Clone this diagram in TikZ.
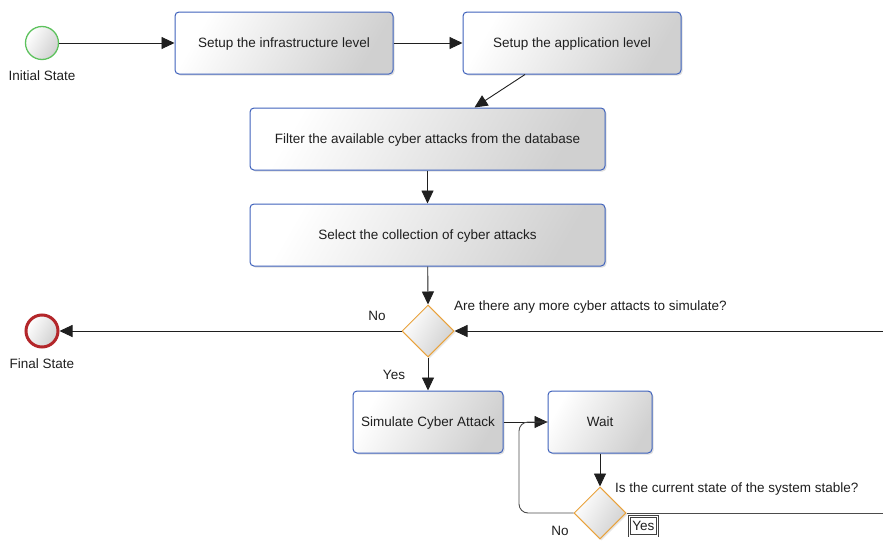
\documentclass[tikz,border=0pt]{standalone}
\usepackage{fontspec}
\setmainfont{Liberation Sans}
\usetikzlibrary{arrows.meta,shadows,shapes.geometric}
\definecolor{boxblue}{HTML}{3F62BC}
\definecolor{startgreen}{HTML}{5DC25D}
\definecolor{endred}{HTML}{B3262A}
\definecolor{gateorange}{HTML}{E9A23B}
\definecolor{shadegray}{HTML}{D0D0D0}
\tikzset{
  every node/.style={font=\fontsize{13.5}{16}\selectfont, text=black!88},
  task/.style={rectangle, rounded corners=4pt, draw=boxblue, line width=1pt,
    left color=white, right color=shadegray, shading angle=60,
    drop shadow={opacity=0.25, shadow xshift=1.5pt, shadow yshift=-1.5pt},
    minimum height=62pt, inner sep=2pt, text height=9.9pt, text depth=0pt},
  gate/.style={diamond, draw=gateorange, line width=1pt, aspect=1,
    left color=white, right color=shadegray, shading angle=60,
    drop shadow={opacity=0.2, shadow xshift=1.5pt, shadow yshift=-1.5pt},
    minimum width=52pt, minimum height=52pt, inner sep=0pt},
  startev/.style={circle, draw=startgreen, line width=1.3pt,
    left color=white, right color=shadegray, shading angle=60,
    minimum size=33pt, inner sep=0pt},
  endev/.style={circle, draw=endred, line width=3pt,
    left color=white, right color=shadegray, shading angle=60,
    minimum size=32pt, inner sep=0pt},
  flow/.style={draw=black!88, line width=0.9pt, -{Triangle[length=13pt,width=12pt]}},
  plainflow/.style={draw=black!70, line width=0.9pt},
  lbl/.style={inner sep=0pt},
  selbox/.style={draw=black!75, double=white, double distance=1.5pt, line width=0.7pt,
    inner xsep=3pt, inner ysep=5pt, anchor=north west}
}
\begin{document}
\begin{tikzpicture}[x=1pt,y=-1pt]
\useasboundingbox (0,0) rectangle (883,541);
% events
\node[startev] (start) at (42,43) {};
\node[lbl] (startlbl) at (42,76) {Initial State};
\node[endev] (final) at (42,331) {};
\node[lbl] (finallbl) at (42,364) {Final State};
% tasks
\node[task, minimum width=218pt] (infra) at (284,43) {Setup the infrastructure level};
\node[task, minimum width=218pt] (app) at (572,43) {Setup the application level};
\node[task, minimum width=355pt] (filter) at (427.5,139) {Filter the available cyber attacks from the database};
\node[task, minimum width=355pt] (select) at (427.5,235) {Select the collection of cyber attacks};
\node[task, minimum width=150pt] (sim) at (428,422) {Simulate Cyber Attack};
\node[task, minimum width=104pt] (wait) at (600,422) {Wait};
% gateways
\node[gate] (g1) at (428,331) {};
\node[gate] (g2) at (600,513) {};
% labels
\node[lbl, anchor=west] (q1) at (454,307) {Are there any more cyber attacts to simulate?};
\node[lbl, anchor=west] (q2) at (615,489) {Is the current state of the system stable?};
\node[lbl] (no1) at (377,316) {No};
\node[lbl] (yes1) at (394,375) {Yes};
\node[lbl] (no2) at (560,531) {No};
\node[selbox] (yes2) at (629,516) {Yes};
% free ends
\coordinate (rin) at (883,331);
\coordinate (rout) at (883,513);
\coordinate (loopx) at (519,0);
% connectors
\draw[flow] (start) -- (infra);
\draw[flow] (infra) -- (app);
\draw[flow] ([xshift=-47pt]app.south) -- ([xshift=47pt]filter.north);
\draw[flow] (filter) -- (select);
\draw[flow] (select) -- (g1.north);
\draw[flow] (g1.west) -- (final);
\draw[flow] (rin) -- (g1.east);
\draw[flow] (g1.south) -- (sim);
\draw[flow] (sim) -- (wait);
\draw[flow] (wait) -- (g2.north);
\draw[plainflow, rounded corners=9pt] (g2.west) -- (g2.west -| loopx) |- (wait.west);
\draw[plainflow] (g2.east) -- (rout);
\end{tikzpicture}
\end{document}
